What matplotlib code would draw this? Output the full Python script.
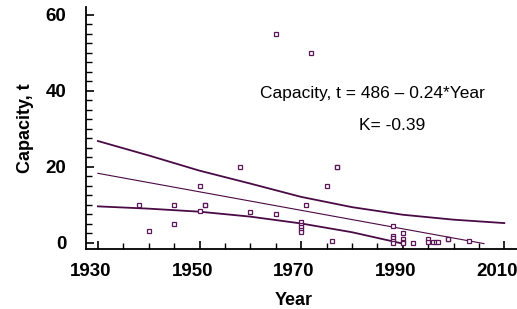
import numpy as np
import matplotlib
matplotlib.use("Agg")
import matplotlib.pyplot as plt
from matplotlib.ticker import MultipleLocator
from matplotlib.transforms import ScaledTranslation

plt.rcParams['font.family'] = ['Liberation Sans', 'DejaVu Sans']

# scatter data
years = [1938, 1940, 1945, 1945, 1950, 1950, 1951, 1951, 1958, 1960,
         1965, 1965, 1970, 1970, 1970, 1970, 1970, 1971, 1972, 1975,
         1976, 1977, 1977, 1988, 1988, 1988, 1988, 1988, 1990, 1990,
         1990, 1990, 1992, 1995, 1995, 1996, 1996.5, 1997, 1999, 1999, 2003]
capacity = [10, 3, 10, 5, 15, 8.5, 10, 10, 20, 8,
            7.5, 55, 5.4, 4.8, 4.2, 3.5, 2.9, 10, 50, 15,
            0.5, 20, 20, 4.5, 1.8, 1.2, 0.5, 0, 2.5, 1.0,
            0.3, 0, 0, 0.9, 0.2, 0.2, 0.2, 0.3, 1, 1, 0.4]

# regression line and bands
mid_years = [1930, 2006]
mid_vals = [18.3, -0.2]
upper_years = [1930, 1940, 1950, 1960, 1970, 1980, 1990, 2000, 2010]
upper_vals = [26.8, 23.0, 19.0, 15.6, 12.1, 9.4, 7.4, 6.1, 5.2]
lower_years = [1930, 1940, 1950, 1960, 1970, 1980, 1986, 1990]
lower_vals = [9.6, 9.0, 8.2, 6.9, 5.1, 2.8, 1.0, -0.2]

x_ticks = [1930, 1950, 1970, 1990, 2010]
y_ticks = [0, 20, 40, 60]

line_col = '#4a0a45'
mark_col = '#5a1656'

fig = plt.figure(figsize=(5.17, 3.09), dpi=100)
ax = fig.add_axes([0.1658, 0.1932, 0.8342, 0.7832])

ax.plot(upper_years, upper_vals, color=line_col, lw=1.3)
ax.plot(mid_years, mid_vals, color=line_col, lw=0.8)
ax.plot(lower_years, lower_vals, color=line_col, lw=1.3)
ax.plot(years, capacity, 's', ms=3.3, mfc='white', mec=mark_col, mew=0.9,
        linestyle='none')

ax.set_xlim(1927.6, 2012.5)
ax.set_ylim(-1.7, 62)
ax.set_xticks(x_ticks)
ax.set_yticks(y_ticks)
ax.xaxis.set_minor_locator(MultipleLocator(5))
ax.yaxis.set_minor_locator(MultipleLocator(2.5))

for s in ['top', 'right']:
    ax.spines[s].set_visible(False)
for s in ['left', 'bottom']:
    ax.spines[s].set_linewidth(1.3)

ax.tick_params(which='major', direction='in', length=6, width=1.2,
               labelsize=13.5)
ax.tick_params(which='minor', direction='in', length=4, width=1.0)
ax.tick_params(axis='y', which='major', pad=14)
ax.tick_params(axis='x', which='major', pad=10)

# x labels sit a little left of their ticks in the original
shift = ScaledTranslation(-7 / 100, 0, fig.dpi_scale_trans)
for lab in ax.get_xticklabels():
    lab.set_fontweight('bold')
    lab.set_transform(lab.get_transform() + shift)
for lab in ax.get_yticklabels():
    lab.set_fontweight('bold')

ax.set_xlabel('Year', fontsize=13, fontweight='bold', labelpad=9)
ax.xaxis.set_label_coords(0.483, -0.175)
ax.set_ylabel('Capacity, t', fontsize=13, fontweight='bold', labelpad=8)

ax.text(1984.1, 39.4, 'Capacity, t = 486 \u2013 0.24*Year', fontsize=12.5,
        ha='center', va='center')
ax.text(1988.0, 30.8, 'K= -0.39', fontsize=12.5, ha='center', va='center')

fig.savefig('out.png', dpi=100)
